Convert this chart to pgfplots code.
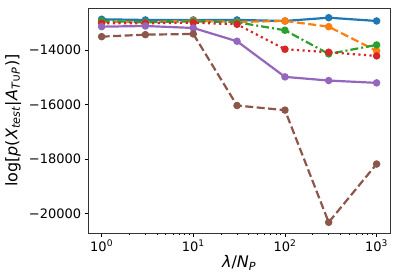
\documentclass[border=0pt]{standalone}
\usepackage{fontspec}
\setmainfont{DejaVu Sans}
\usepackage{pgfplots}
\pgfplotsset{compat=1.18}
\definecolor{c0}{RGB}{31,119,180}
\definecolor{c1}{RGB}{255,127,14}
\definecolor{c2}{RGB}{44,160,44}
\definecolor{c3}{RGB}{214,39,40}
\definecolor{c4}{RGB}{148,103,189}
\definecolor{c5}{RGB}{140,86,75}
\begin{document}
\begin{tikzpicture}
\begin{axis}[
  name=ax,
  scale only axis,
  width=302pt, height=225pt,
  xmode=log,
  xmin=0.714, xmax=1400,
  ymin=-20718, ymax=-12473,
  scaled y ticks=false,
  xtick={1,10,100,1000},
  xticklabels={10\textsuperscript{0},10\textsuperscript{1},10\textsuperscript{2},10\textsuperscript{3}},
  ytick={-20000,-18000,-16000,-14000},
  yticklabels={−20000,−18000,−16000,−14000},
  tick label style={font=\fontsize{13}{15}\selectfont},
  tick align=outside,
  major tick length=3.5pt,
  minor tick length=2pt,
  tick style={black, line width=0.6pt},
  xtick pos=bottom, ytick pos=left,
  axis line style={line width=0.8pt, black!80},
  xlabel={\textit{λ}/\textit{N}\textsubscript{\textit{P}}},
  ylabel={log[\textit{p}(\textit{X}\textsubscript{\textit{test}}|\textit{A}\textsubscript{\textit{T}∪\textit{P}})]},
  label style={font=\fontsize{16}{18}\selectfont},
  xlabel style={yshift=3pt},
  ylabel style={yshift=1pt},
  every axis plot/.append style={line width=2.2pt, mark=*, mark size=2.6pt},
]
\addplot[c0, solid, mark options={solid}] coordinates {(1,-12876) (3,-12901) (10,-12900) (30,-12900) (100,-12938) (300,-12818) (1000,-12938)};
\addplot[c1, dash pattern=on 8pt off 3.5pt, mark options={solid}] coordinates {(1,-12964) (3,-12986) (10,-12927) (30,-12975) (100,-12938) (300,-13147) (1000,-14037)};
\addplot[c2, dash pattern=on 8pt off 3pt on 2pt off 3pt, mark options={solid}] coordinates {(1,-12938) (3,-12986) (10,-12950) (30,-12986) (100,-13279) (300,-14146) (1000,-13817)};
\addplot[c3, dash pattern=on 2.2pt off 3.4pt, mark options={solid}] coordinates {(1,-13023) (3,-13023) (10,-13000) (30,-13060) (100,-13975) (300,-14085) (1000,-14220)};
\addplot[c4, solid, mark options={solid}] coordinates {(1,-13147) (3,-13122) (10,-13195) (30,-13682) (100,-14988) (300,-15123) (1000,-15208)};
\addplot[c5, dash pattern=on 8pt off 3.5pt, mark options={solid}] coordinates {(1,-13513) (3,-13440) (10,-13414) (30,-16039) (100,-16208) (300,-20322) (1000,-18184)};
\end{axis}
\pgfresetboundingbox
\useasboundingbox ([shift={(-88.3pt,-46.7pt)}]ax.south west) rectangle ([shift={(9pt,8.3pt)}]ax.north east);
\end{tikzpicture}
\end{document}
